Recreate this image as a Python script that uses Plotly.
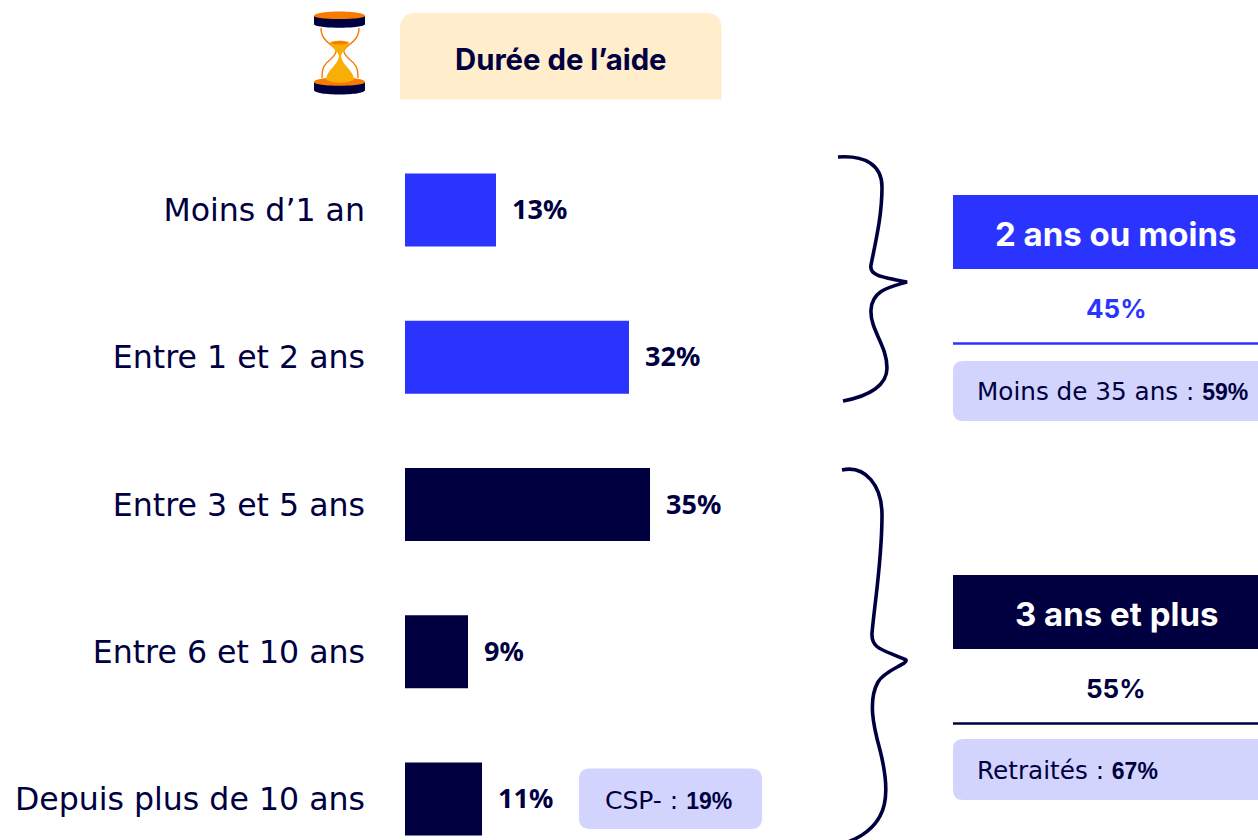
import plotly.graph_objects as go

# --- Data ---
categories = ["Moins d’1 an", "Entre 1 et 2 ans", "Entre 3 et 5 ans", "Entre 6 et 10 ans", "Depuis plus de 10 ans"]
values = [13, 32, 35, 9, 11]
value_labels = ["13%", "32%", "35%", "9%", "11%"]
header_title = "Durée de l’aide"
group_titles = ["2 ans ou moins", "3 ans et plus"]
group_totals = ["45%", "55%"]
group_notes = [("Moins de 35 ans : ", "59%"), ("Retraités : ", "67%")]
extra_note = ("CSP- : ", "19%")

BLUE = "#2B33FF"
NAVY = "#000040"
LILAC = "#D3D4FD"
CREAM = "#FFEDCC"
ORANGE = "#F97A00"
AMBER = "#F8AE05"
FONT = "DejaVu Sans"
BOLD = "Inter"
W, H = 1258, 840
bar_colors = [BLUE, BLUE, NAVY, NAVY, NAVY]
STEP = 147.25
FIRST = 210.0

fig = go.Figure()
fig.add_trace(go.Bar(
    x=values, y=categories, orientation="h", width=73 / STEP,
    marker=dict(color=bar_colors, line_width=0), hoverinfo="skip", showlegend=False,
))

shapes = []
def P(path, fill=None, line=None, lw=0):
    shapes.append(dict(type="path", xref="x2", yref="y2", path=path,
                       fillcolor=fill or "rgba(0,0,0,0)",
                       line=dict(color=line or "rgba(0,0,0,0)", width=lw), layer="above"))

def rrect(x0, y0, x1, y1, r, bottom=True):
    p = f"M{x0},{y0+r} Q{x0},{y0} {x0+r},{y0} L{x1-r},{y0} Q{x1},{y0} {x1},{y0+r} "
    if bottom:
        p += f"L{x1},{y1-r} Q{x1},{y1} {x1-r},{y1} L{x0+r},{y1} Q{x0},{y1} {x0},{y1-r} Z"
    else:
        p += f"L{x1},{y1} L{x0},{y1} Z"
    return p

def ann(x, y, text, size, color=NAVY, anchor="center", family=FONT):
    fig.add_annotation(x=x, y=y, xref="x2", yref="y2", text=text, showarrow=False,
                       xanchor=anchor, yanchor="middle", font=dict(size=size, color=color, family=family))

def note(first, second, size=23):
    return f"{first}<b style='font-family:Liberation Sans;font-size:{size}px'>{second}</b>"

# header
P(rrect(400, 13, 721.5, 99.5, 16, bottom=False), fill=CREAM)
ann(560.5, 59, f"<b>{header_title}</b>", 29.3, family=BOLD)

# hourglass
P("M314,82 L365,82 L365,90 C365,96 314,96 314,90 Z", fill=NAVY)
P("M314,82 C314,76 365,76 365,82 C365,87 314,87 314,82 Z", fill=ORANGE)
P("M321,28 C321,42 333,44 336,50 C337,53 334,56 331,59 C324,64 322,68 322,78", line=ORANGE, lw=1.4)
P("M359,28 C359,42 347,44 344,50 C343,53 346,56 349,59 C356,64 358,68 358,78", line=ORANGE, lw=1.4)
P("M330,42 Q340,39 349,42 C348,48 342,50 341,56 C342,66 354,70 354,80 Q340,86 326,80 C326,70 338,66 339,56 C338,50 331,48 330,42 Z", fill=AMBER)
P("M330,43 Q340,39 349,43 Q340,46 330,43 Z", fill=ORANGE)
P("M314,16 L365,16 L365,24 C365,29 314,29 314,24 Z", fill=NAVY)
P("M314,16 C314,10 365,10 365,16 C365,20 314,20 314,16 Z", fill=ORANGE)

# braces
P("M838,157 C865,155 882,165 882,187 C882,215 876,240 871,265 C869,275 880,277 907,282 "
  "C890,287 872,290 871,310 C870,330 887,345 887,368 C887,385 870,396 843,401", line=NAVY, lw=3.6)
P("M842,470 C865,465 882,485 882,515 C882,560 875,600 872,633 C871,650 885,650 906,660 "
  "C908,664 885,670 878,682 C868,700 873,725 880,750 C890,790 892,825 848,842", line=NAVY, lw=3.6)

# right panels
panels = [(195, BLUE), (575, NAVY)]
for i, (top, col) in enumerate(panels):
    P(f"M953,{top} L{W},{top} L{W},{top+74} L953,{top+74} Z", fill=col)
    ann(1116, top + 38.5, f"<b>{group_titles[i]}</b>", 33, color="white", family=BOLD)
    ann(1116, top + 113.5, f"<b>{group_totals[i]}</b>", 26, color=col, family=BOLD)
    shapes.append(dict(type="line", xref="x2", yref="y2", x0=953, x1=W, y0=top + 148.5, y1=top + 148.5,
                       line=dict(color=col, width=2.5), layer="above"))
    P(rrect(953, top + 166 - (i * 2), W + 20, top + 226 - (i * 1), 10), fill=LILAC)
    ann(975, top + 196 - (i * 1), note(*group_notes[i]), 24.7, anchor="left")

# extra note
P(rrect(579, 768.5, 762, 829, 11), fill=LILAC)
ann(668, 800, note(*extra_note), 25)

# value labels (positioned through the data axes)
for c, v, t in zip(categories, values, value_labels):
    fig.add_annotation(x=v, y=c, xref="x", yref="y", text=f"<b>{t}</b>", showarrow=False, xanchor="left",
                       xshift=14, yshift=1.5, font=dict(size=27, color=NAVY, family="Noto Sans"))

fig.update_layout(
    width=W, height=H, margin=dict(l=0, r=0, t=0, b=0),
    paper_bgcolor="white", plot_bgcolor="rgba(0,0,0,0)", showlegend=False, shapes=shapes,
    xaxis=dict(domain=[405 / W, 1], range=[0, (W - 405) / 7], visible=False, fixedrange=True),
    yaxis=dict(domain=[0, 1], type="category", categoryorder="array", categoryarray=categories,
               range=[(H - FIRST) / STEP, -FIRST / STEP], showgrid=False, zeroline=False, showline=False,
               ticks="", ticklabelstandoff=39, automargin=False,
               tickfont=dict(size=31.6, color=NAVY, family=FONT), fixedrange=True),
    xaxis2=dict(domain=[0, 1], range=[0, W], visible=False, anchor="y2", fixedrange=True),
    yaxis2=dict(domain=[0, 1], range=[H, 0], visible=False, anchor="x2", fixedrange=True),
)
fig.add_trace(go.Scatter(x=[0], y=[0], xaxis="x2", yaxis="y2", mode="markers",
                         marker=dict(opacity=0), hoverinfo="skip", showlegend=False))
fig.write_html("out.html", config=dict(displayModeBar=False),
               post_script="document.body.style.margin='0';document.body.style.overflow='hidden';")
